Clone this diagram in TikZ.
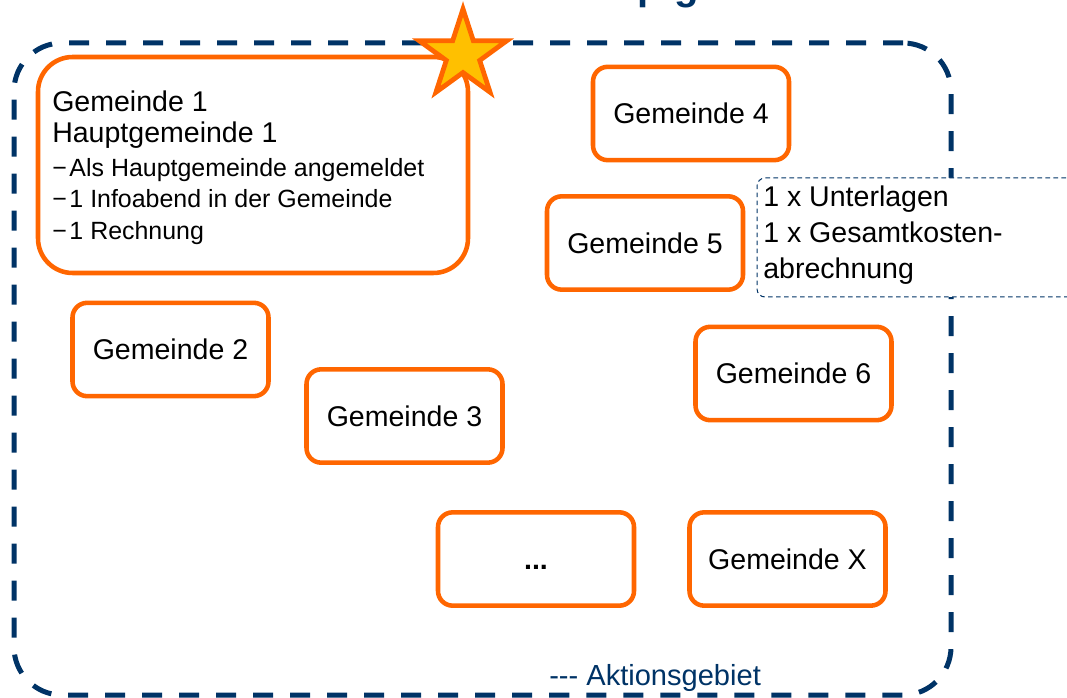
\documentclass[tikz,border=0pt]{standalone}
\usepackage{fontspec}
\setmainfont{Liberation Sans}
\usetikzlibrary{shapes.geometric}
\definecolor{navy}{RGB}{0,51,102}
\definecolor{orng}{RGB}{255,102,0}
\definecolor{gold}{RGB}{255,192,0}
\begin{document}
\begin{tikzpicture}[x=0.75pt,y=-0.75pt,
  area/.style={draw=navy, line width=3.75pt, dash pattern=on 15pt off 12.75pt, rounded corners=36pt, minimum width=702.75pt, minimum height=489pt, inner sep=0pt},
  gem/.style={draw=orng, line width=3.4pt, rounded corners=11pt, fill=white, minimum width=147pt, minimum height=70pt, inner sep=0pt, font=\fontsize{21.4}{25}\selectfont},
  bigbox/.style={draw=orng, line width=3.4pt, rounded corners=26pt, fill=white, minimum width=322.5pt, minimum height=162pt, inner sep=0pt},
  infobox/.style={draw=navy, line width=0.75pt, dash pattern=on 3.5pt off 2.5pt, rounded corners=6pt, fill=white, minimum width=249.75pt, minimum height=89.25pt, inner sep=0pt},
  mainline/.style={anchor=base west, inner sep=0pt, font=\fontsize{21.4}{25}\selectfont},
  bulletline/.style={anchor=base west, inner sep=0pt, font=\fontsize{18.7}{22}\selectfont},
  starmark/.style={star, star points=5, star point ratio=2.618, minimum size=69pt, inner sep=0pt, draw=orng, fill=gold, line width=3.6pt},
  titletext/.style={anchor=base east, inner sep=0pt, text=navy, font=\fontsize{30}{36}\selectfont\bfseries},
  legend/.style={anchor=base west, inner sep=0pt, text=navy, font=\fontsize{21.8}{25}\selectfont}]
\useasboundingbox (0,0) rectangle (1067,698);
\clip (0,0) rectangle (1067,698);
% title (cut off at the top edge)
\node[titletext] (title) at (862,0) {Zusammenschluss mit Hauptgemeinde};
% Aktionsgebiet
\node[area] (area) at (482.5,369) {};
% info box
\node[infobox] (info) at (923.5,237.5) {};
\node[mainline] (i1) at (763,207) {1 x Unterlagen};
\node[mainline] (i2) at (763,243) {1 x Gesamtkosten-};
\node[mainline] (i3) at (763,279) {abrechnung};
% Gemeinde 1
\node[bigbox] (g1) at (253,165) {};
\node[mainline] (t1) at (52,112) {Gemeinde 1};
\node[mainline] (t2) at (52,143) {Hauptgemeinde 1};
\node[bulletline] (b1) at (52,177) {−\hspace{2pt}Als Hauptgemeinde angemeldet};
\node[bulletline] (b2) at (52,208) {−\hspace{2pt}1 Infoabend in der Gemeinde};
\node[bulletline] (b3) at (52,240) {−\hspace{2pt}1 Rechnung};
% other municipalities
\node[gem] (g4) at (691,113.5) {Gemeinde 4};
\node[gem] (g5) at (645,243) {Gemeinde 5};
\node[gem] (g2) at (170.5,349.5) {Gemeinde 2};
\node[gem] (g3) at (404.5,416) {Gemeinde 3};
\node[gem] (g6) at (793.5,373.5) {Gemeinde 6};
\node[gem] (gd) at (536,559) {\vphantom{Gd}\textbf{...}};
\node[gem] (gx) at (787.5,559) {Gemeinde X};
% star
\node[starmark] (star) at (463,55) {};
% legend
\node[legend] (leg) at (549,685) {-{}-{}- Aktionsgebiet};
\end{tikzpicture}
\end{document}
